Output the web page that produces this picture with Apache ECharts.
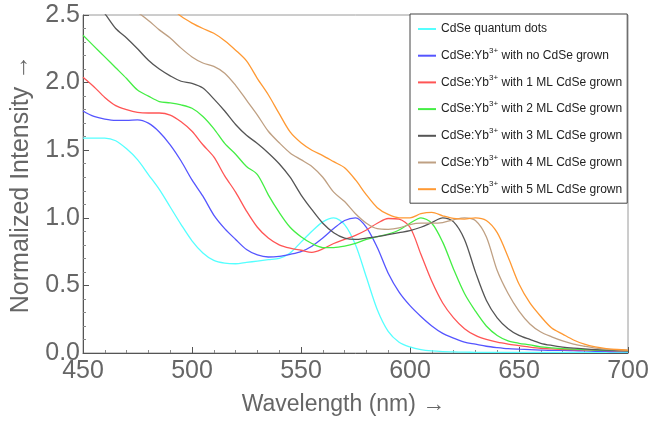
<!DOCTYPE html>
<html>
<head>
<meta charset="utf-8">
<title>Absorption spectra</title>
<script src="https://cdn.jsdelivr.net/npm/echarts@6/dist/echarts.min.js"></script>
<style>
  html, body { margin: 0; padding: 0; background: #fff; }
  #chart { width: 650px; height: 425px; }
</style>
</head>
<body>
<div id="chart"></div>
<script>
// Wavelength grid (nm)
const wavelengths = [450, 455, 460, 465, 470, 475, 480, 485, 490, 495,
  500, 505, 510, 515, 520, 525, 530, 535, 540, 545,
  550, 555, 560, 565, 570, 575, 580, 585, 590, 595,
  600, 605, 610, 615, 620, 625, 630, 635, 640, 645,
  650, 655, 660, 665, 670, 675, 680, 685, 690, 695, 700];

// Normalized intensity of each sample
const qdCdSe = [1.59, 1.59, 1.59, 1.57, 1.51, 1.43, 1.32, 1.21, 1.08, 0.95,
  0.83, 0.74, 0.685, 0.665, 0.66, 0.67, 0.68, 0.69, 0.70, 0.74,
  0.82, 0.90, 0.97, 1.0, 0.95, 0.80, 0.56, 0.32, 0.16, 0.08,
  0.045, 0.025, 0.015, 0.01, 0.008, 0.006, 0.005, 0.004, 0.004, 0.004,
  0.004, 0.004, 0.004, 0.004, 0.004, 0.004, 0.004, 0.004, 0.004, 0.004, 0.004];

const ml0 = [1.79, 1.75, 1.73, 1.72, 1.72, 1.725, 1.70, 1.635, 1.54, 1.42,
  1.28, 1.16, 1.02, 0.92, 0.84, 0.765, 0.725, 0.71, 0.715, 0.73,
  0.75, 0.79, 0.85, 0.92, 0.98, 1.0, 0.93, 0.78, 0.59, 0.45,
  0.35, 0.27, 0.20, 0.145, 0.11, 0.08, 0.065, 0.05, 0.04, 0.032,
  0.028, 0.025, 0.022, 0.02, 0.02, 0.018, 0.015, 0.013, 0.012, 0.01, 0.01];

const ml1 = [2.04, 1.97, 1.89, 1.83, 1.80, 1.78, 1.775, 1.775, 1.76, 1.71,
  1.64, 1.54, 1.45, 1.31, 1.19, 1.05, 0.93, 0.85, 0.80, 0.775,
  0.76, 0.745, 0.77, 0.81, 0.84, 0.87, 0.91, 0.96, 0.995, 0.99,
  0.93, 0.73, 0.53, 0.37, 0.26, 0.18, 0.13, 0.10, 0.08, 0.066,
  0.055, 0.044, 0.035, 0.03, 0.026, 0.024, 0.022, 0.02, 0.018, 0.016, 0.015];

const ml2 = [2.35, 2.27, 2.19, 2.11, 2.03, 1.945, 1.90, 1.86, 1.85, 1.835,
  1.81, 1.75, 1.66, 1.55, 1.47, 1.38, 1.32, 1.17, 1.04, 0.93,
  0.86, 0.81, 0.78, 0.78, 0.79, 0.81, 0.84, 0.86, 0.88, 0.91,
  0.96, 1.0, 0.96, 0.82, 0.62, 0.44, 0.31, 0.20, 0.13, 0.09,
  0.072, 0.06, 0.045, 0.038, 0.032, 0.028, 0.025, 0.022, 0.02, 0.018, 0.016];

const ml3 = [2.68, 2.60, 2.51, 2.40, 2.33, 2.25, 2.165, 2.10, 2.05, 2.01,
  1.995, 1.96, 1.88, 1.79, 1.69, 1.61, 1.55, 1.48, 1.40, 1.30,
  1.17, 1.06, 0.96, 0.89, 0.85, 0.84, 0.85, 0.86, 0.875, 0.89,
  0.905, 0.93, 0.965, 1.0, 0.97, 0.84, 0.60, 0.39, 0.26, 0.18,
  0.13, 0.10, 0.072, 0.056, 0.044, 0.036, 0.03, 0.025, 0.022, 0.02, 0.018];

const ml4 = [2.85, 2.78, 2.71, 2.64, 2.57, 2.52, 2.46, 2.39, 2.33, 2.255,
  2.19, 2.145, 2.12, 2.07, 1.98, 1.87, 1.76, 1.64, 1.555, 1.48,
  1.43, 1.38, 1.30, 1.19, 1.12, 1.03, 0.96, 0.92, 0.915, 0.925,
  0.95, 0.96, 0.96, 0.965, 0.985, 1.0, 0.98, 0.86, 0.61, 0.44,
  0.31, 0.215, 0.155, 0.12, 0.09, 0.066, 0.05, 0.036, 0.028, 0.024, 0.02];

const ml5 = [3.2, 3.12, 3.03, 2.95, 2.86, 2.78, 2.70, 2.62, 2.56, 2.49,
  2.44, 2.40, 2.365, 2.31, 2.24, 2.16, 2.03, 1.91, 1.77, 1.635,
  1.555, 1.50, 1.46, 1.415, 1.37, 1.28, 1.17, 1.075, 1.025, 1.0,
  1.0, 1.03, 1.04, 1.015, 0.995, 0.99, 1.0, 0.98, 0.89, 0.71,
  0.51, 0.37, 0.27, 0.185, 0.14, 0.096, 0.065, 0.045, 0.033, 0.026, 0.022];

const seriesNames = [
  'CdSe quantum dots',
  'CdSe:Yb3+ with no CdSe grown',
  'CdSe:Yb3+ with 1 ML CdSe grown',
  'CdSe:Yb3+ with 2 ML CdSe grown',
  'CdSe:Yb3+ with 3 ML CdSe grown',
  'CdSe:Yb3+ with 4 ML CdSe grown',
  'CdSe:Yb3+ with 5 ML CdSe grown'
];
const seriesValues = [qdCdSe, ml0, ml1, ml2, ml3, ml4, ml5];
const seriesColors = ['#55ffff', '#5555ff', '#ff5555', '#44ee44', '#555555', '#bfa083', '#ff9933'];

const xTicks = { min: 450, max: 700, step: 50 };
const yTicks = { min: 0, max: 2.5, step: 0.5 };

const FONT = 'Arial';
const labelGray = '#666666';
const frameDark = '#555555';

const chart = echarts.init(document.getElementById('chart'), null, { renderer: 'canvas' });

const series = seriesNames.map((name, k) => ({
  name: name,
  type: 'line',
  data: wavelengths.map((w, i) => [w, seriesValues[k][i]]),
  showSymbol: false,
  symbol: 'none',
  smooth: 0.3,
  clip: true,
  lineStyle: { color: seriesColors[k], width: 1.3 },
  itemStyle: { color: seriesColors[k] },
  emphasis: { disabled: true },
  animation: false
}));

chart.setOption({
  animation: false,
  backgroundColor: '#ffffff',
  textStyle: { fontFamily: FONT },
  grid: {
    left: 83, right: 22, top: 15, bottom: 72,
    outerBoundsMode: 'none',
    containLabel: false,
    show: true, borderColor: '#9a9a9a', borderWidth: 1, backgroundColor: 'transparent'
  },
  xAxis: {
    type: 'value',
    min: xTicks.min, max: xTicks.max, interval: xTicks.step,
    name: 'Wavelength (nm) \u2192',
    nameLocation: 'middle',
    nameGap: 40,
    nameTextStyle: { color: labelGray, fontSize: 23, fontFamily: FONT, padding: [0, 24, 0, 0] },
    axisLine: { show: true, onZero: false, lineStyle: { color: frameDark, width: 1 } },
    axisTick: { show: true, inside: true, length: 6, lineStyle: { color: frameDark } },
    minorTick: { show: true, splitNumber: 5, length: 3, lineStyle: { color: '#888' } },
    splitLine: { show: false },
    axisLabel: { color: labelGray, fontSize: 25, margin: 6, fontFamily: FONT }
  },
  yAxis: {
    type: 'value',
    min: yTicks.min, max: yTicks.max, interval: yTicks.step,
    name: 'Normalized Intensity \u2192',
    nameLocation: 'middle',
    nameGap: 49,
    nameRotate: 90,
    nameTextStyle: { color: labelGray, fontSize: 25, fontFamily: FONT },
    axisLine: { show: true, onZero: false, lineStyle: { color: frameDark, width: 1 } },
    axisTick: { show: true, inside: true, length: 6, lineStyle: { color: frameDark } },
    minorTick: { show: true, splitNumber: 5, length: 3, lineStyle: { color: '#888' } },
    splitLine: { show: false },
    axisLabel: {
      color: labelGray, fontSize: 25, margin: 3, fontFamily: FONT,
      formatter: v => v.toFixed(1)
    }
  },
  legend: {
    orient: 'vertical',
    left: 410, top: 14,
    data: seriesNames,
    backgroundColor: '#ffffff',
    borderColor: '#444444',
    borderWidth: 1,
    borderRadius: 0,
    padding: [6, 5, 5, 8],
    itemGap: 8.7,
    itemWidth: 18,
    itemHeight: 2,
    icon: 'rect',
    selectedMode: false,
    formatter: name => name.replace('Yb3+', 'Yb{sup|3+}'),
    textStyle: {
      color: '#222222',
      fontSize: 12,
      lineHeight: 18,
      fontFamily: FONT,
      rich: {
        sup: { fontSize: 8, verticalAlign: 'top', lineHeight: 8, color: '#222222', fontFamily: FONT }
      }
    }
  },
  series: series
});
</script>
</body>
</html>
